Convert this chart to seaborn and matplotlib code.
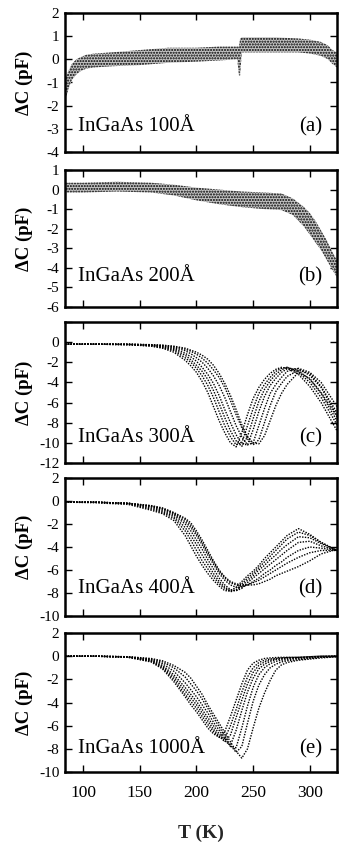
import pandas as pd
import matplotlib
matplotlib.use("Agg")
import matplotlib.pyplot as plt
import seaborn as sns

# ---- data ----
# panels (a) and (b): noisy point clouds, given as lower / upper envelope
T_a = [84, 87, 90, 94, 98, 103, 110, 125, 150, 175, 200, 220, 236, 237.5, 238.5,
       240, 250, 270, 290, 300, 310, 316, 320, 324]
hi_a = [-0.9, -0.5, -0.2, 0.0, 0.1, 0.2, 0.25, 0.3, 0.4, 0.5, 0.5, 0.55, 0.55, 0.55,
        0.9, 0.95, 0.95, 0.95, 0.9, 0.85, 0.75, 0.6, 0.4, 0.3]
lo_a = [-1.8, -1.3, -0.9, -0.65, -0.5, -0.4, -0.35, -0.3, -0.25, -0.15, -0.1, -0.05,
        0.0, -0.7, -0.7, 0.3, 0.3, 0.3, 0.3, 0.25, 0.15, 0.0, -0.2, -0.35]

T_b = [84, 100, 130, 160, 180, 200, 220, 240, 260, 275, 285, 295, 300, 305, 310,
       315, 320, 324]
hi_b = [0.35, 0.35, 0.4, 0.35, 0.25, 0.1, 0.0, -0.1, -0.15, -0.2, -0.45, -0.9, -1.2,
        -1.6, -2.1, -2.6, -3.2, -3.6]
lo_b = [-0.15, -0.15, -0.1, -0.15, -0.3, -0.55, -0.75, -0.9, -1.0, -1.05, -1.3, -1.9,
        -2.3, -2.7, -3.1, -3.6, -4.1, -4.5]

# panels (c)-(e): families of dotted curves on a shared T grid
T_grid = [84, 110, 140, 160, 170, 180, 190, 195, 200, 205, 210, 215, 220, 225, 230,
          235, 240, 245, 250, 255, 260, 265, 270, 275, 280, 290, 300, 310, 324]

curves_c = [
    [-0.2, -0.2, -0.25, -0.4, -0.6, -1.0, -1.8, -2.35, -3.0, -3.9, -5.0, -6.4, -7.8, -9.0, -10.0,
     -10.4, -9.0, -7.2, -5.6, -4.5, -3.7, -3.1, -2.7, -2.5, -2.6, -3.2, -4.4, -6.0, -8.8],
    [-0.2, -0.2, -0.25, -0.37, -0.55, -0.85, -1.55, -2.0, -2.6, -3.35, -4.3, -5.5, -6.9, -8.3, -9.4,
     -10.2, -10.0, -8.3, -6.6, -5.1, -4.2, -3.5, -2.9, -2.6, -2.5, -3.0, -4.0, -5.5, -8.2],
    [-0.2, -0.2, -0.25, -0.33, -0.48, -0.75, -1.3, -1.75, -2.3, -2.9, -3.7, -4.8, -6.1, -7.5, -8.8,
     -9.8, -10.35, -9.4, -7.6, -5.9, -4.7, -3.85, -3.2, -2.75, -2.5, -2.85, -3.7, -5.1, -7.8],
    [-0.2, -0.2, -0.22, -0.3, -0.42, -0.65, -1.1, -1.45, -1.9, -2.5, -3.2, -4.1, -5.3, -6.7, -8.0,
     -9.2, -10.1, -10.2, -8.7, -6.9, -5.4, -4.3, -3.6, -3.0, -2.65, -2.65, -3.3, -4.5, -7.3],
    [-0.2, -0.2, -0.22, -0.28, -0.37, -0.55, -0.85, -1.15, -1.55, -2.0, -2.6, -3.35, -4.3, -5.5, -6.9,
     -8.3, -9.4, -10.2, -10.0, -8.3, -6.6, -5.1, -4.2, -3.5, -2.9, -2.6, -3.0, -4.0, -6.4],
    [-0.2, -0.2, -0.2, -0.27, -0.32, -0.45, -0.7, -0.9, -1.2, -1.6, -2.1, -2.75, -3.5, -4.5, -5.8,
     -7.2, -8.5, -9.6, -10.2, -9.7, -8.0, -6.3, -4.9, -4.1, -3.4, -2.8, -3.1, -4.4, -7.0],
    [-0.2, -0.2, -0.2, -0.25, -0.3, -0.4, -0.6, -0.8, -1.0, -1.3, -1.7, -2.3, -3.1, -4.1, -5.3,
     -6.7, -8.2, -9.4, -10.0, -10.1, -9.3, -7.8, -6.3, -5.1, -4.2, -3.0, -3.6, -5.0, -7.4],
]

curves_d = [
    [-0.1, -0.15, -0.3, -0.8, -1.1, -1.7, -3.0, -3.9, -4.8, -5.6, -6.3, -6.9, -7.4, -7.8, -7.8,
     -7.5, -7.0, -6.5, -6.1, -5.6, -5.0, -4.5, -4.0, -3.5, -3.0, -2.4, -2.9, -3.6, -4.3],
    [-0.1, -0.1, -0.25, -0.7, -1.0, -1.5, -2.6, -3.4, -4.3, -5.2, -5.9, -6.6, -7.2, -7.6, -7.9,
     -7.7, -7.2, -6.7, -6.3, -5.8, -5.3, -4.8, -4.3, -3.8, -3.3, -2.7, -3.0, -3.6, -4.3],
    [-0.1, -0.1, -0.22, -0.6, -0.9, -1.35, -2.3, -3.0, -3.8, -4.7, -5.5, -6.3, -7.0, -7.5, -7.8,
     -7.8, -7.4, -6.9, -6.5, -6.0, -5.6, -5.1, -4.7, -4.2, -3.8, -3.1, -3.2, -3.7, -4.3],
    [-0.1, -0.1, -0.2, -0.5, -0.8, -1.2, -2.0, -2.6, -3.4, -4.2, -5.1, -5.9, -6.7, -7.3, -7.7,
     -7.8, -7.6, -7.1, -6.7, -6.3, -5.9, -5.5, -5.1, -4.7, -4.3, -3.6, -3.5, -3.9, -4.3],
    [-0.1, -0.1, -0.2, -0.45, -0.7, -1.1, -1.8, -2.3, -3.0, -3.8, -4.7, -5.5, -6.3, -6.9, -7.3,
     -7.5, -7.5, -7.3, -7.0, -6.7, -6.3, -6.0, -5.6, -5.3, -4.9, -4.3, -4.0, -4.1, -4.3],
    [-0.1, -0.1, -0.2, -0.42, -0.65, -1.05, -1.6, -2.1, -2.8, -3.6, -4.5, -5.3, -6.1, -6.7, -7.1,
     -7.3, -7.4, -7.3, -7.1, -6.9, -6.6, -6.3, -6.0, -5.7, -5.4, -4.9, -4.5, -4.3, -4.3],
    [-0.1, -0.1, -0.2, -0.4, -0.6, -1.0, -1.5, -1.9, -2.6, -3.4, -4.3, -5.2, -6.0, -6.6, -7.0,
     -7.2, -7.3, -7.3, -7.3, -7.2, -7.0, -6.8, -6.5, -6.3, -6.1, -5.7, -5.2, -4.6, -4.2],
]

curves_e = [
    [0, 0, -0.1, -0.5, -1.1, -2.2, -3.5, -4.2, -4.8, -5.5, -6.2, -6.7, -7.0, -6.5, -5.2,
     -3.8, -2.4, -1.2, -0.6, -0.35, -0.2, -0.15, -0.12, -0.1, -0.1, -0.1, -0.05, 0, 0],
    [0, 0, -0.1, -0.45, -1.0, -2.0, -3.3, -3.9, -4.5, -5.2, -5.9, -6.5, -7.0, -7.1, -6.0,
     -4.6, -3.1, -1.8, -1.0, -0.55, -0.35, -0.25, -0.2, -0.15, -0.12, -0.1, -0.05, 0, 0],
    [0, 0, -0.08, -0.4, -0.9, -1.8, -3.0, -3.6, -4.2, -4.9, -5.6, -6.3, -6.9, -7.4, -6.8,
     -5.3, -3.8, -2.4, -1.4, -0.8, -0.5, -0.35, -0.25, -0.2, -0.15, -0.12, -0.08, -0.03, 0],
    [0, 0, -0.07, -0.35, -0.8, -1.6, -2.7, -3.3, -3.9, -4.6, -5.3, -6.0, -6.7, -7.3, -7.7,
     -6.4, -4.7, -3.1, -1.9, -1.1, -0.7, -0.45, -0.3, -0.25, -0.2, -0.15, -0.1, -0.05, 0],
    [0, 0, -0.06, -0.3, -0.65, -1.3, -2.3, -2.9, -3.5, -4.2, -4.9, -5.7, -6.4, -7.1, -7.8,
     -7.9, -6.2, -4.3, -2.7, -1.6, -1.0, -0.65, -0.45, -0.35, -0.3, -0.2, -0.15, -0.08, -0.02],
    [0, 0, -0.05, -0.25, -0.5, -1.0, -1.8, -2.4, -3.0, -3.7, -4.5, -5.3, -6.1, -6.9, -7.7,
     -8.3, -7.8, -5.8, -3.9, -2.5, -1.6, -1.0, -0.7, -0.5, -0.4, -0.3, -0.2, -0.1, -0.03],
    [0, 0, -0.05, -0.2, -0.4, -0.8, -1.4, -1.9, -2.6, -3.3, -4.2, -5.0, -5.8, -6.6, -7.4,
     -8.2, -8.8, -8.0, -6.2, -4.5, -3.2, -2.1, -1.2, -0.75, -0.55, -0.35, -0.25, -0.15, -0.05],
]

samples = ["InGaAs 100Å", "InGaAs 200Å", "InGaAs 300Å", "InGaAs 400Å", "InGaAs 1000Å"]
tags = ["(a)", "(b)", "(c)", "(d)", "(e)"]
ylims = [(-4, 2), (-6, 1), (-12, 2), (-10, 2), (-10, 2)]
ysteps = [1, 1, 2, 2, 2]
xticks = [100, 150, 200, 250, 300]


def curve_frame(curves):
    rows = []
    for i, vals in enumerate(curves):
        for t, v in zip(T_grid, vals):
            rows.append({"T": t, "dC": v, "run": i})
    return pd.DataFrame(rows)


sns.set_theme(style="ticks")
plt.rcParams["font.family"] = ["Liberation Serif", "DejaVu Serif"]
plt.rcParams["axes.unicode_minus"] = False
plt.rcParams["hatch.linewidth"] = 1.0

W, H = 339, 846
fig = plt.figure(figsize=(W / 100, H / 100), dpi=100)

# axes boxes in pixels (top, bottom) measured on the reference
boxes = [(13, 152), (170, 307), (322, 463), (478, 616), (633, 772)]
left_px, right_px = 65, 337
text_y = [0.18, 0.22, 0.18, 0.20, 0.17]

axes = []
for k, (top, bot) in enumerate(boxes):
    ax = fig.add_axes([left_px / W, 1 - bot / H, (right_px - left_px) / W, (bot - top) / H])
    axes.append(ax)

    if k == 0:
        ax.fill_between(T_a, lo_a, hi_a, facecolor="#c4c4c4", edgecolor="black",
                        hatch="......", linewidth=0)
    elif k == 1:
        ax.fill_between(T_b, lo_b, hi_b, facecolor="#c4c4c4", edgecolor="black",
                        hatch="......", linewidth=0)
    else:
        df = curve_frame([curves_c, curves_d, curves_e][k - 2])
        sns.lineplot(data=df, x="T", y="dC", units="run", estimator=None, ax=ax,
                     color="black", linewidth=1.0, linestyle=(0, (1, 1.0)), legend=False)

    lo, hi = ylims[k]
    ax.set_xlim(84, 324)
    ax.set_ylim(lo, hi)
    yt = list(range(lo, hi + 1, ysteps[k]))
    ax.set_yticks(yt)
    ax.set_yticklabels([str(v) if not (k == 2 and v == 2) else "" for v in yt])
    ax.set_xticks(xticks)
    if k == 4:
        ax.set_xticklabels([str(v) for v in xticks])
    else:
        ax.set_xticklabels([])

    ax.tick_params(direction="in", length=5, width=1.0, top=True, right=True,
                   color="black", labelcolor="black")
    ax.tick_params(axis="y", labelsize=11, pad=4)
    ax.tick_params(axis="x", labelsize=12.5, pad=9)
    for sp in ax.spines.values():
        sp.set_linewidth(1.8)
        sp.set_color("black")
        sp.set_visible(True)

    ax.set_xlabel("")
    ax.set_ylabel("ΔC (pF)", fontsize=13.5, fontweight="bold", color="black")
    ax.yaxis.set_label_coords(-0.118, 0.5)

    ax.text(0.048, text_y[k], samples[k], transform=ax.transAxes, fontsize=15,
            ha="left", va="center", color="black")
    ax.text(0.945, text_y[k], tags[k], transform=ax.transAxes, fontsize=15,
            ha="right", va="center", color="black")

fig.text((left_px + right_px) / 2 / W, 1 - 833 / H, "T (K)", fontsize=14,
         fontweight="bold", ha="center", va="center")

fig.savefig("out.png", dpi=100)
